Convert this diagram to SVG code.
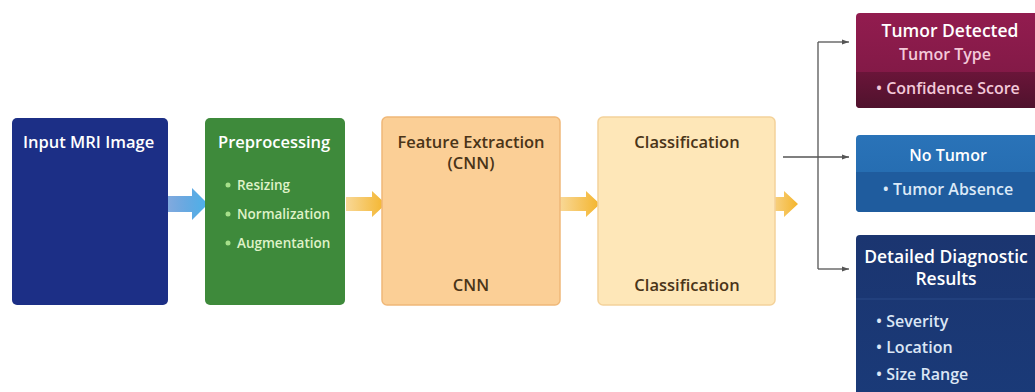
<svg xmlns="http://www.w3.org/2000/svg" width="1035" height="392" viewBox="0 0 1035 392">
<style>
.t{font-family:"Open Sans","Liberation Sans",sans-serif;font-weight:600;}
.w{fill:#ffffff;}
.d{fill:#4a3418;}
.s{font-size:16.5px;}
.r{font-size:16px;}
.h{font-size:17.5px;}
.b{font-size:13.5px;}
.c{stroke:#555;stroke-width:1.3;fill:none;}
</style>
<defs>
<linearGradient id="gBlue" x1="0" y1="0" x2="1" y2="0">
<stop offset="0" stop-color="#3b74c9" stop-opacity="0.6"/>
<stop offset="1" stop-color="#4ab3ea"/>
</linearGradient>
<linearGradient id="gYel" x1="0" y1="0" x2="1" y2="0">
<stop offset="0" stop-color="#f2b12e" stop-opacity="0.5"/>
<stop offset="1" stop-color="#f4b52b"/>
</linearGradient>
<linearGradient id="gMag" x1="0" y1="0" x2="0" y2="1">
<stop offset="0" stop-color="#921c4f"/>
<stop offset="1" stop-color="#7a1842"/>
</linearGradient>
<linearGradient id="gMag2" x1="0" y1="0" x2="0" y2="1">
<stop offset="0" stop-color="#6a1539"/>
<stop offset="1" stop-color="#50122d"/>
</linearGradient>
<linearGradient id="gNo" x1="0" y1="0" x2="0" y2="1">
<stop offset="0" stop-color="#2a73b8"/>
<stop offset="1" stop-color="#2268ac"/>
</linearGradient>
<linearGradient id="gDet" x1="0" y1="0" x2="0" y2="1">
<stop offset="0" stop-color="#1b3570"/>
<stop offset="1" stop-color="#1a3a78"/>
</linearGradient>
<marker id="ah" markerWidth="8" markerHeight="8" refX="7" refY="4" orient="auto" markerUnits="userSpaceOnUse">
<path d="M0,1.5 L7,4 L0,6.5 Z" fill="#555"/>
</marker>
</defs>
<rect width="1035" height="392" fill="#ffffff"/>

<g id="connectors">
<path d="M163,196 H192 V188 L208,204 L192,220 V212 H163 Z" fill="url(#gBlue)"/>
<path d="M346,197 H372 V191 L386,204 L372,217 V211 H346 Z" fill="url(#gYel)"/>
<path d="M560,197 H586 V191 L600,204 L586,217 V211 H560 Z" fill="url(#gYel)"/>
<path d="M768,197 H784 V191 L798,204 L784,217 V211 H768 Z" fill="url(#gYel)"/>
<path class="c" d="M783,157 H849" marker-end="url(#ah)"/>
<path class="c" d="M818,42 V269"/>
<path class="c" d="M818,42 H849" marker-end="url(#ah)"/>
<path class="c" d="M818,269 H849" marker-end="url(#ah)"/>
</g>

<g id="input">
<rect x="12" y="118" width="156" height="187" rx="5" fill="#1c2f86"/>
<text class="t w s" x="23" y="148">Input MRI Image</text>
</g>

<g id="preprocessing">
<rect x="205" y="118" width="140" height="187" rx="5" fill="#3e8a3b"/>
<text class="t w s" x="218" y="148">Preprocessing</text>
<circle cx="228" cy="185" r="2.5" fill="#a6e08a"/>
<circle cx="228" cy="214" r="2.5" fill="#a6e08a"/>
<circle cx="228" cy="243" r="2.5" fill="#a6e08a"/>
<text class="t b" x="237" y="190" fill="#dff2c8">Resizing</text>
<text class="t b" x="237" y="219" fill="#dff2c8">Normalization</text>
<text class="t b" x="237" y="248" fill="#dff2c8">Augmentation</text>
</g>

<g id="feature">
<rect x="382" y="117" width="178" height="188" rx="5" fill="#fbcf96" stroke="#f0b878" stroke-width="1.5"/>
<text class="t d s" x="471" y="148" text-anchor="middle">Feature Extraction</text>
<text class="t d s" x="471" y="169" text-anchor="middle">(CNN)</text>
<text class="t d s" x="471" y="291" text-anchor="middle">CNN</text>
</g>

<g id="classification">
<rect x="598" y="117" width="177" height="188" rx="5" fill="#fee7b8" stroke="#f4d29a" stroke-width="1.5"/>
<text class="t d s" x="687" y="148" text-anchor="middle">Classification</text>
<text class="t d s" x="687" y="291" text-anchor="middle">Classification</text>
</g>

<g id="tumor">
<rect x="856" y="13" width="182" height="95" rx="4" fill="url(#gMag)"/>
<path d="M856,72 H1035 V108 H860 Q856,108 856,104 Z" fill="url(#gMag2)"/>
<text class="t w h" x="950" y="37" text-anchor="middle">Tumor Detected</text>
<text class="t r" x="945" y="60" text-anchor="middle" fill="#f3c9d9">Tumor Type</text>
<text class="t r" x="876" y="94" fill="#f3c9d9">• Confidence Score</text>
</g>

<g id="notumor">
<rect x="856" y="135" width="182" height="77" rx="4" fill="url(#gNo)"/>
<path d="M856,172 H1035 V212 H860 Q856,212 856,208 Z" fill="#1f5c9e"/>
<text class="t w r" x="948" y="161" text-anchor="middle">No Tumor</text>
<text class="t r" x="948" y="195" text-anchor="middle" fill="#dbe9f7">• Tumor Absence</text>
</g>

<g id="detailed">
<rect x="856" y="235" width="182" height="162" rx="4" fill="url(#gDet)"/>
<line x1="856" y1="299" x2="1035" y2="299" stroke="#2a4a88" stroke-width="1"/>
<text class="t w h" x="946" y="263" text-anchor="middle">Detailed Diagnostic</text>
<text class="t w h" x="946" y="285" text-anchor="middle">Results</text>
<text class="t r" x="876" y="327" fill="#dbe6f5">• Severity</text>
<text class="t r" x="876" y="353" fill="#dbe6f5">• Location</text>
<text class="t r" x="876" y="380" fill="#dbe6f5">• Size Range</text>
</g>
</svg>
